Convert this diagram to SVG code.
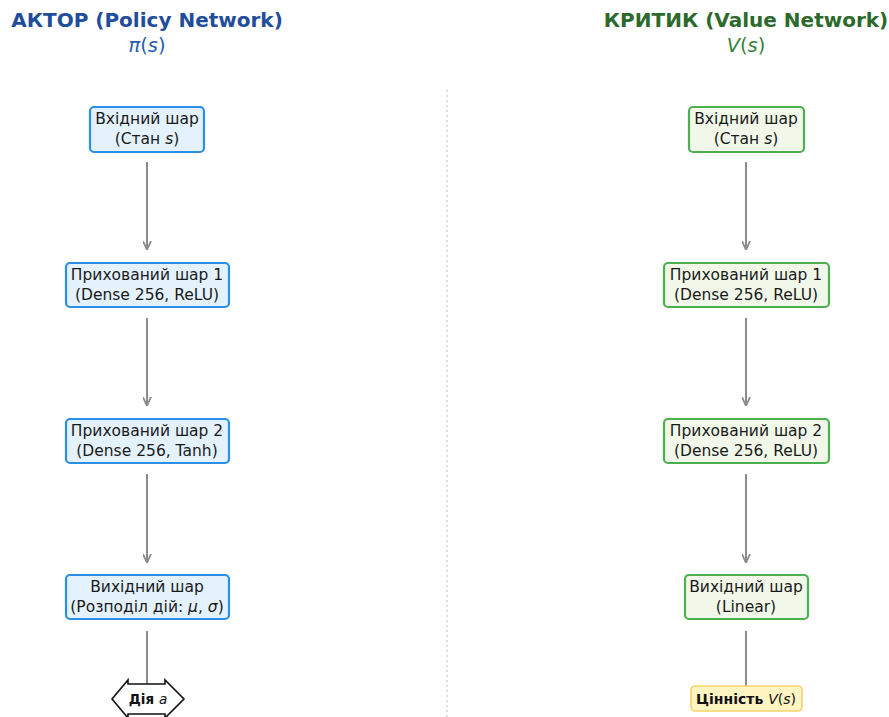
<svg xmlns="http://www.w3.org/2000/svg" width="889" height="717" viewBox="0 0 889 717">
<style>
text{font-family:"DejaVu Sans","Liberation Sans",sans-serif;}
.t{font-size:15.5px;fill:#1a1a1a;text-anchor:middle;}
.ti{font-size:20px;font-weight:bold;text-anchor:middle;}
.sub{font-size:19.5px;text-anchor:middle;}
.a rect{fill:#e3f2fd;stroke:#2b8fe6;stroke-width:2.2;}
.c rect{fill:#f1f8e9;stroke:#4caf50;stroke-width:2.2;}
.conn line{stroke:#8c8c8c;stroke-width:2;}
</style>
<defs>
<marker id="ah" viewBox="0 0 10 10" refX="9" refY="5" markerWidth="9" markerHeight="9" markerUnits="userSpaceOnUse" orient="auto">
<path d="M0,0.5 L10,5 L0,9.5" fill="none" stroke="#8c8c8c" stroke-width="2"/>
</marker>
</defs>
<rect width="889" height="717" fill="#fff"/>
<line x1="447" y1="90" x2="447" y2="717" stroke="#c8c8c8" stroke-width="1.2" stroke-dasharray="2,3"/>
<g id="titles">
<text class="ti" x="147" y="27" fill="#1f4e9c">АКТОР (Policy Network)</text>
<text class="sub" x="147" y="52" fill="#2a5db0"><tspan font-style="italic">π</tspan>(<tspan font-style="italic">s</tspan>)</text>
<text class="ti" x="746" y="27" fill="#2b6a2b">КРИТИК (Value Network)</text>
<text class="sub" x="746" y="52" fill="#3a7f3a"><tspan font-style="italic">V</tspan>(<tspan font-style="italic">s</tspan>)</text>
</g>
<g id="connectors" class="conn">
<line x1="147" y1="162" x2="147" y2="249" marker-end="url(#ah)"/>
<line x1="147" y1="318" x2="147" y2="405" marker-end="url(#ah)"/>
<line x1="147" y1="474" x2="147" y2="562" marker-end="url(#ah)"/>
<line x1="147" y1="631" x2="147" y2="690"/>
<line x1="746" y1="162" x2="746" y2="249" marker-end="url(#ah)"/>
<line x1="746" y1="318" x2="746" y2="405" marker-end="url(#ah)"/>
<line x1="746" y1="474" x2="746" y2="562" marker-end="url(#ah)"/>
<line x1="746" y1="631" x2="746" y2="688"/>
</g>
<g id="actor_input" class="a">
<rect x="90" y="107" width="114" height="45" rx="4"/>
<text class="t" x="147" y="123.5">Вхідний шар</text>
<text class="t" x="147" y="143.5">(Стан <tspan font-style="italic">s</tspan>)</text>
</g>
<g id="actor_hidden1" class="a">
<rect x="66" y="263" width="163" height="44" rx="4"/>
<text class="t" x="147" y="279.5">Прихований шар 1</text>
<text class="t" x="147" y="299.5">(Dense 256, ReLU)</text>
</g>
<g id="actor_hidden2" class="a">
<rect x="66" y="419" width="163" height="44" rx="4"/>
<text class="t" x="147" y="435.5">Прихований шар 2</text>
<text class="t" x="147" y="455.5">(Dense 256, Tanh)</text>
</g>
<g id="actor_output" class="a">
<rect x="66" y="575" width="163" height="44" rx="4"/>
<text class="t" x="147" y="591.5">Вихідний шар</text>
<text class="t" x="147" y="611.5">(Розподіл дій: <tspan font-style="italic">μ</tspan>, <tspan font-style="italic">σ</tspan>)</text>
</g>
<g id="actor_action">
<path d="M112,699 L128,680 L128,684 L165,684 L165,680 L184,699 L165,718 L165,714 L128,714 L128,718 Z" fill="#fff" stroke="#111" stroke-width="1.6" stroke-linejoin="miter"/>
<text x="148" y="703.5" text-anchor="middle" font-size="13.5px" font-weight="bold" fill="#111">Дія <tspan font-weight="normal" font-style="italic">a</tspan></text>
</g>
<g id="critic_input" class="c">
<rect x="689" y="107" width="115" height="45" rx="4"/>
<text class="t" x="746" y="123.5">Вхідний шар</text>
<text class="t" x="746" y="143.5">(Стан <tspan font-style="italic">s</tspan>)</text>
</g>
<g id="critic_hidden1" class="c">
<rect x="664" y="263" width="165" height="44" rx="4"/>
<text class="t" x="746" y="279.5">Прихований шар 1</text>
<text class="t" x="746" y="299.5">(Dense 256, ReLU)</text>
</g>
<g id="critic_hidden2" class="c">
<rect x="664" y="419" width="165" height="44" rx="4"/>
<text class="t" x="746" y="435.5">Прихований шар 2</text>
<text class="t" x="746" y="455.5">(Dense 256, ReLU)</text>
</g>
<g id="critic_output" class="c">
<rect x="685" y="575" width="123" height="44" rx="4"/>
<text class="t" x="746" y="591.5">Вихідний шар</text>
<text class="t" x="746" y="611.5">(Linear)</text>
</g>
<g id="critic_value">
<rect x="691" y="686" width="111" height="25" rx="4" fill="#fff4c2" stroke="#f6d36a" stroke-width="1.6"/>
<text x="746" y="703.5" text-anchor="middle" font-size="14px" font-weight="bold" fill="#111">Цінність <tspan font-weight="normal" font-style="italic">V</tspan><tspan font-weight="normal">(</tspan><tspan font-weight="normal" font-style="italic">s</tspan><tspan font-weight="normal">)</tspan></text>
</g>
</svg>
